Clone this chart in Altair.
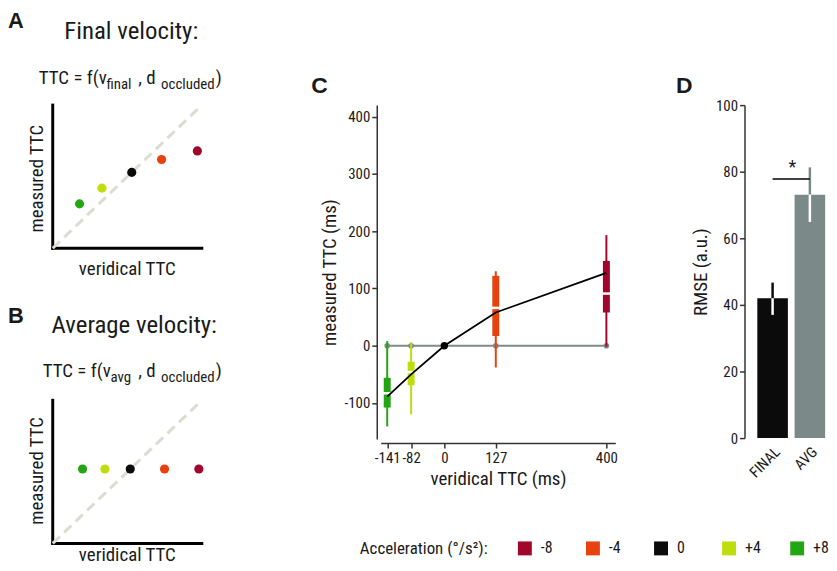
import altair as alt
import pandas as pd

FONT = "Liberation Sans Narrow, Roboto Condensed, DejaVu Sans Condensed, Liberation Sans, sans-serif"
BOLD = "Liberation Sans, Arial, sans-serif"
INK = "#1a1a1a"

# ---------------- data ----------------
acc_levels = ["-8", "-4", "0", "+4", "+8"]
acc_colors = ["#a0072b", "#e8410d", "#0b0b0b", "#bedd0c", "#24a514"]

# schematic panels A / B (arbitrary units 0..1)
schem_acc = ["+8", "+4", "0", "-4", "-8"]
a_x = [0.18, 0.33, 0.53, 0.73, 0.97]
a_y = [0.31, 0.42, 0.53, 0.62, 0.68]
b_x = [0.20, 0.35, 0.52, 0.75, 0.98]
b_y = [0.52, 0.52, 0.52, 0.52, 0.52]
diag_x = [0.0, 1.0]
diag_y = [0.0, 1.0]

# panel C
c_acc = ["+8", "+4", "0", "-4", "-8"]
c_x = [-141, -82, 0, 127, 400]
c_mean = [-89, -50, 0, 58, 127]
c_avg_pred = [0, 0, 0, 0, 0]
box_acc = ["+8", "+4", "-4", "-8"]
box_x = [-141, -82, 127, 400]
box_wlo = [-141, -120, -38, -2]
box_whi = [8, 6, 130, 193]
box_qlo = [-108, -69, 17, 58]
box_qhi = [-56, -28, 122, 148]
box_med = [-83, -46, 66, 91]
c_xticks = [-141, -82, 0, 127, 400]
c_yticks = [-100, 0, 100, 200, 300, 400]

# panel D
d_cond = ["FINAL", "AVG"]
d_rmse = [42.0, 73.1]
d_lo = [37.0, 64.9]
d_hi = [46.7, 81.3]
d_col = ["#0b0b0b", "#7b8a88"]
d_yticks = [0, 20, 40, 60, 80, 100]
sig_y = [77.8]
star_y = [79.5]

one = pd.DataFrame({"k": [0]})
acc_scale = alt.Scale(domain=acc_levels, range=acc_colors)
A_BASE = 2.0625  # vertical offset of schematic A inside the shared A/B view


def txt(s, x, y, size, font=FONT, weight="normal", align="left", baseline="alphabetic", angle=0):
    return alt.Chart(one).mark_text(
        text=s, fontSize=size, font=font, fontWeight=weight, align=align,
        baseline=baseline, color=INK, angle=angle
    ).encode(x=alt.value(x), y=alt.value(y))


# ---------------- panels A + B (one view) ----------------
pts_df = pd.DataFrame({
    "panel": ["A"] * 5 + ["B"] * 5,
    "x": a_x + b_x, "y": a_y + b_y, "acc": schem_acc + schem_acc})
frame_df = pd.DataFrame({
    "panel": ["A", "A", "B", "B"],
    "x": [0, 0, 0, 0], "x2": [0, 1, 0, 1], "y": [0, 0, 0, 0], "y2": [1, 0, 1, 0]})
diag_df = pd.DataFrame({"panel": ["A", "A", "B", "B"], "x": diag_x * 2, "y": diag_y * 2})
shift = f"(datum.panel == 'A' ? {A_BASE} : 0)"
abx = alt.Scale(domain=[0, 1.26], nice=False, zero=False)
aby = alt.Scale(domain=[0, A_BASE + 1], nice=False, zero=False)

frame = alt.Chart(frame_df).transform_calculate(
    yy=f"datum.y + {shift}", yy2=f"datum.y2 + {shift}"
).mark_rule(color="black", strokeWidth=3, strokeCap="square").encode(
    x=alt.X("x:Q", scale=abx, axis=None), x2="x2:Q",
    y=alt.Y("yy:Q", scale=aby, axis=None), y2="yy2:Q")
diag = alt.Chart(diag_df).transform_calculate(yy=f"datum.y + {shift}").mark_line(
    color="#dcdcd3", strokeWidth=3, strokeDash=[10, 6]).encode(
    x=alt.X("x:Q", scale=abx), y=alt.Y("yy:Q", scale=aby), detail="panel:N")
pts = alt.Chart(pts_df).transform_calculate(yy=f"datum.y + {shift}").mark_circle(
    size=85, opacity=1).encode(
    x=alt.X("x:Q", scale=abx), y=alt.Y("yy:Q", scale=aby),
    color=alt.Color("acc:N", scale=acc_scale, legend=None))

ab_texts = [
    txt("A", -45, -78, 22, font=BOLD, weight="bold"),
    txt("Final velocity:", 79, -67, 25, align="center"),
    txt("B", -45, 219, 22, font=BOLD, weight="bold"),
    txt("Average velocity:", 82, 229, 25, align="center"),
    txt("measured TTC", -16, 74, 19, align="center", baseline="middle", angle=270),
    txt("measured TTC", -16, 368, 19, align="center", baseline="middle", angle=270),
    txt("veridical TTC", 75, 171, 19, align="center"),
    txt("veridical TTC", 75, 459, 19, align="center"),
]
formula_a = [("TTC = f(v", -14, -21, 19), ("final", 54, -16, 15), (", d", 86, -21, 19),
             ("occluded", 109, -16, 15), (")", 164, -21, 19)]
formula_b = [("TTC = f(v", -10, 274, 19), ("avg", 58, 279, 15), (", d", 86, 274, 19),
             ("occluded", 109, 279, 15), (")", 164, 274, 19)]
for s, x, y, size in formula_a + formula_b:
    ab_texts.append(txt(s, x, y, size))

panel_ab = alt.layer(frame, diag, pts, *ab_texts).properties(width=189, height=441)

# ---------------- panel C ----------------
dc = pd.DataFrame({"x": c_x, "mean": c_mean, "pred": c_avg_pred, "acc": c_acc})
db = pd.DataFrame({"x": box_x, "wlo": box_wlo, "whi": box_whi, "qlo": box_qlo,
                   "qhi": box_qhi, "med": box_med, "acc": box_acc})
cx = alt.Scale(domain=[-157, 422], nice=False, zero=False)
cy = alt.Scale(domain=[-163, 420], nice=False, zero=False)
ax_common = dict(grid=False, domainColor="#333333", tickColor="#333333", domainWidth=1.5,
                 tickWidth=1.5, tickSize=5, labelFontSize=15, labelFont=FONT,
                 labelColor=INK, titleFontSize=19, titleFont=FONT,
                 titleFontWeight="normal", titleColor=INK, offset=4,
                 labelOverlap=False, labelExpr="'' + datum.value")
x_c = alt.X("x:Q", scale=cx, axis=alt.Axis(values=c_xticks, title="veridical TTC (ms)",
                                             labelPadding=3, titlePadding=4, **ax_common))
gray_line = alt.Chart(dc).mark_line(color="#7d8b89", strokeWidth=2).encode(
    x=x_c, y=alt.Y("pred:Q", scale=cy, axis=alt.Axis(values=c_yticks, title="measured TTC (ms)",
                                                       labelPadding=2, titlePadding=5, **ax_common)))
gray_pts = alt.Chart(dc).mark_circle(color="#7d8b89", size=32, opacity=1).encode(
    x=alt.X("x:Q", scale=cx), y=alt.Y("pred:Q", scale=cy))
whisk = alt.Chart(db).mark_rule(strokeWidth=2).encode(
    x=alt.X("x:Q", scale=cx), y=alt.Y("wlo:Q", scale=cy), y2="whi:Q",
    color=alt.Color("acc:N", scale=acc_scale, legend=None))
thick = alt.Chart(db).mark_rule(strokeWidth=7).encode(
    x=alt.X("x:Q", scale=cx), y=alt.Y("qlo:Q", scale=cy), y2="qhi:Q",
    color=alt.Color("acc:N", scale=acc_scale, legend=None))
gap = alt.Chart(db).mark_tick(orient="horizontal", color="white", thickness=2.5, size=9, opacity=1).encode(
    x=alt.X("x:Q", scale=cx), y=alt.Y("med:Q", scale=cy))
mean_line = alt.Chart(dc).mark_line(color="black", strokeWidth=1.8).encode(
    x=alt.X("x:Q", scale=cx), y=alt.Y("mean:Q", scale=cy))
zero_pt = alt.Chart(dc[dc["acc"] == "0"]).mark_circle(color="black", size=55, opacity=1).encode(
    x=alt.X("x:Q", scale=cx), y=alt.Y("mean:Q", scale=cy))
c_main = alt.layer(gray_line, gray_pts, whisk, thick, gap, mean_line, zero_pt,
                   txt("C", -70, -12, 23, font=BOLD, weight="bold"))

# legend row (drawn inside panel C's view with its own point scale)
dleg = pd.DataFrame({"acc": acc_levels})
lx = alt.X("acc:N", scale=alt.Scale(domain=acc_levels, range=[145, 419], padding=0),
           sort=acc_levels, axis=None)
leg_sq = alt.Chart(dleg).mark_square(size=196, opacity=1).encode(
    x=lx, y=alt.value(446), color=alt.Color("acc:N", scale=acc_scale, legend=None))
leg_lab = alt.Chart(dleg).mark_text(align="left", baseline="middle", dx=16, fontSize=16,
                                    font=FONT, color=INK).encode(
    x=lx, y=alt.value(446), text="acc:N")
c_leg = alt.layer(leg_sq, leg_lab, txt("Acceleration (°/s²):", -21, 452, 17))

panel_c = alt.layer(c_main, c_leg).resolve_scale(x="independent").properties(
    width=236, height=336)

# ---------------- panel D ----------------
dd = pd.DataFrame({"cond": d_cond, "rmse": d_rmse, "lo": d_lo, "hi": d_hi, "col": d_col})
dsig = pd.DataFrame({"a": ["FINAL"], "b": ["AVG"], "y": sig_y})
dstar = pd.DataFrame({"y": star_y})
dx = alt.Scale(domain=d_cond, paddingInner=0.18, paddingOuter=0.05)
dy = alt.Scale(domain=[0, 100], nice=False)
x_d = alt.X("cond:N", scale=dx, sort=d_cond, axis=alt.Axis(
    title=None, domain=False, ticks=False, labelAngle=-45, labelFontSize=15,
    labelFont=FONT, labelColor=INK, labelPadding=6))
bars = alt.Chart(dd).mark_bar().encode(
    x=x_d,
    y=alt.Y("rmse:Q", scale=dy, axis=alt.Axis(
        values=d_yticks, title="RMSE (a.u.)", grid=False, domainColor="#333333",
        tickColor="#333333", domainWidth=1.5, tickWidth=1.5, tickSize=5,
        labelFontSize=15, labelFont=FONT, labelColor=INK, titleFontSize=19,
        titleFont=FONT, titleFontWeight="normal", titleColor=INK, offset=11,
        labelPadding=2, titlePadding=5)),
    fill=alt.Fill("col:N", scale=None),
)
err_up = alt.Chart(dd).mark_rule(strokeWidth=2.5).encode(
    x=alt.X("cond:N", scale=dx, sort=d_cond), y=alt.Y("rmse:Q", scale=dy), y2="hi:Q",
    stroke=alt.Stroke("col:N", scale=None))
err_dn = alt.Chart(dd).mark_rule(strokeWidth=2.5, color="white").encode(
    x=alt.X("cond:N", scale=dx, sort=d_cond), y=alt.Y("lo:Q", scale=dy), y2="rmse:Q")
sig = alt.Chart(dsig).mark_rule(strokeWidth=1.5, color="black").encode(
    x=alt.X("a:N", scale=dx, sort=d_cond), x2="b:N", y=alt.Y("y:Q", scale=dy))
star = alt.Chart(dstar).mark_text(text="*", fontSize=18, font=FONT, color=INK,
                                  baseline="alphabetic").encode(
    x=alt.value(37), y=alt.Y("y:Q", scale=dy))
panel_d = alt.layer(
    bars, err_up, err_dn, sig, star,
    txt("D", -80, -12, 23, font=BOLD, weight="bold"),
).properties(width=72, height=335)

chart = alt.hconcat(panel_ab, panel_c, panel_d, spacing=141, bounds="flush",
                    padding=0).configure(font=FONT).configure_view(stroke=None)

chart.save("out.html", embed_options={"renderer": "svg", "actions": False})
